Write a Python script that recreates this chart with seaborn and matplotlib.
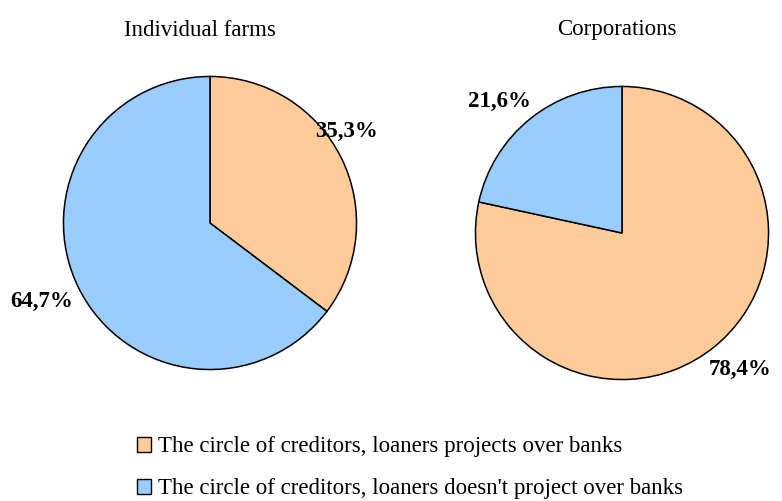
import numpy as np
import seaborn as sns
import matplotlib.pyplot as plt
from matplotlib.patches import Patch

sns.set_theme(style="white")
plt.rcParams['font.family'] = ['Liberation Serif', 'DejaVu Serif']
plt.rcParams['text.color'] = 'black'

titles = ['Individual farms', 'Corporations']
categories = ["The circle of creditors, loaners projects over banks",
              "The circle of creditors, loaners doesn't project over banks"]
farms = [35.3, 64.7]
corps = [78.4, 21.6]
colors = ['#FFCC99', '#99CCFF']

# label placement (angle in degrees, distance in radii) per wedge
label_pos = [[(34, 1.12), (205, 1.27)],
             [(-49, 1.23), (133, 1.23)]]

fig = plt.figure(figsize=(7.82, 5.01), dpi=100)
w, h = 296 / 782, 296 / 501
axes = [fig.add_axes([62 / 782, 130 / 501, w, h]),
        fig.add_axes([474 / 782, 120 / 501, w, h])]

for ax, vals, title, pos in zip(axes, [farms, corps], titles, label_pos):
    ax.pie(vals, colors=colors, startangle=90, counterclock=False,
           wedgeprops=dict(edgecolor='black', linewidth=1.1))
    ax.set_xlim(-1.01, 1.01)
    ax.set_ylim(-1.01, 1.01)
    ax.set_aspect('equal')
    ax.axis('off')
    for v, (ang, d) in zip(vals, pos):
        a = np.deg2rad(ang)
        ax.text(d * np.cos(a), d * np.sin(a), f"{v:.1f}%".replace('.', ','),
                ha='center', va='center', fontsize=16.5, fontweight='bold',
                clip_on=False)

fig.text(200 / 782, 1 - 30 / 501, titles[0], ha='center', va='center', fontsize=16.5)
fig.text(617 / 782, 1 - 30 / 501, titles[1], ha='center', va='center', fontsize=16.5)

handles = [Patch(facecolor=c, edgecolor='black', linewidth=1.0) for c in colors]
fig.legend(handles, categories, loc='upper left', bbox_to_anchor=(119 / 782, 1 - 418 / 501),
           frameon=False, fontsize=16.5, handlelength=0.6, handleheight=0.6,
           handletextpad=0.3, labelspacing=0.92, borderpad=0.3)

fig.savefig('out.png', dpi=100)
